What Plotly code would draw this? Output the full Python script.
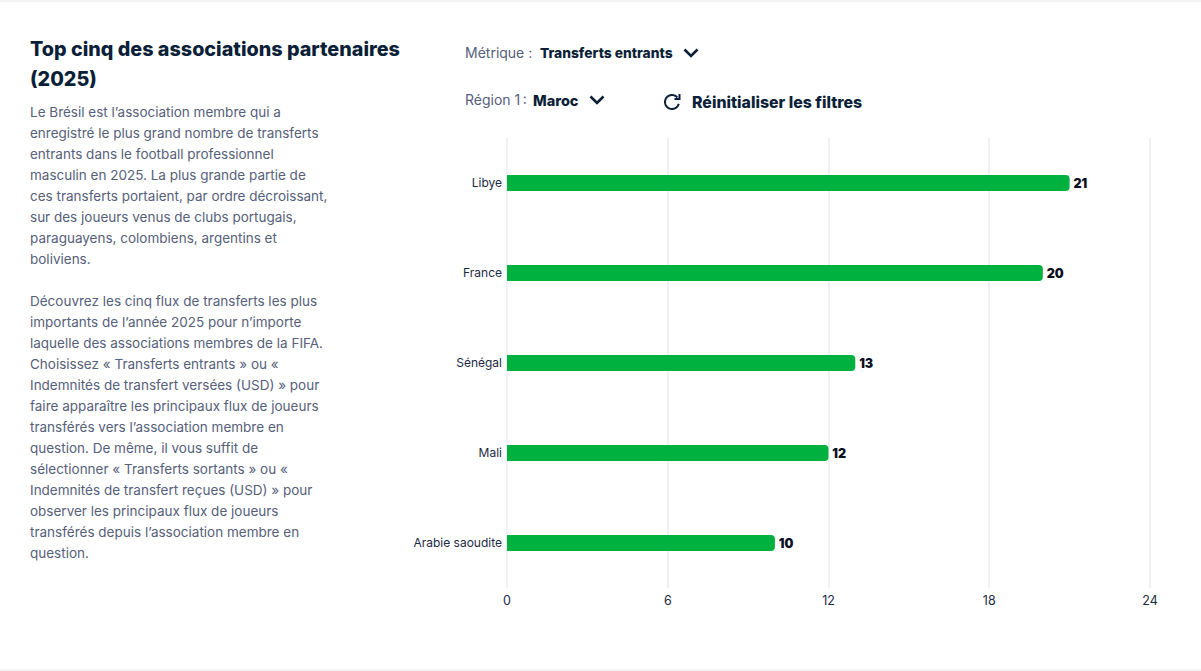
import numpy as np
import plotly.graph_objects as go

categories = ["Libye", "France", "Sénégal", "Mali", "Arabie saoudite"]
values = [21, 20, 13, 12, 10]
x_ticks = [0, 6, 12, 18, 24]

title_lines = ["Top cinq des associations partenaires", "(2025)"]
body_lines = [
    "Le Brésil est l’association membre qui a",
    "enregistré le plus grand nombre de transferts",
    "entrants dans le football professionnel",
    "masculin en 2025. La plus grande partie de",
    "ces transferts portaient, par ordre décroissant,",
    "sur des joueurs venus de clubs portugais,",
    "paraguayens, colombiens, argentins et",
    "boliviens.",
    "",
    "Découvrez les cinq flux de transferts les plus",
    "importants de l’année 2025 pour n’importe",
    "laquelle des associations membres de la FIFA.",
    "Choisissez « Transferts entrants » ou «",
    "Indemnités de transfert versées (USD) » pour",
    "faire apparaître les principaux flux de joueurs",
    "transférés vers l’association membre en",
    "question. De même, il vous suffit de",
    "sélectionner « Transferts sortants » ou «",
    "Indemnités de transfert reçues (USD) » pour",
    "observer les principaux flux de joueurs",
    "transférés depuis l’association membre en",
    "question.",
]

W, H = 1201, 671
PAD = 2
L, R, T, B = 507 - PAD, 1150 + PAD, 138, 588
UNIT = (1150 - 507) / 24
FONT = "Inter, 'Noto Sans', sans-serif"
NAVY = "#0b1f38"
SLATE = "#56607a"
GRID = "#f0f0f5"


def px(x):
    return (x - L) / (R - L)


def py(y):
    return (B - y) / (B - T)


def label(x, y, text, size, color, weight=400):
    return dict(
        x=px(x - 2), y=py(y), xref="paper", yref="paper", text=text, showarrow=False,
        xanchor="left", yanchor="middle", align="left",
        font=dict(family=FONT, size=size, color=color, weight=weight),
    )


def polyline(points):
    return "M " + " L ".join(f"{px(a):.5f} {py(b):.5f}" for a, b in points)


def chevron(cx, cy):
    return dict(
        type="path", xref="paper", yref="paper",
        path=polyline([(cx - 6.5, cy - 3.5), (cx, cy + 3), (cx + 6.5, cy - 3.5)]),
        line=dict(color=NAVY, width=2.6), layer="above",
    )


fig = go.Figure(
    go.Bar(
        x=values, y=categories, orientation="h",
        marker=dict(color="#00b140", cornerradius=4, line=dict(width=0)),
        text=values, texttemplate="\u200a%{x}", textposition="outside", cliponaxis=False,
        textfont=dict(family=FONT, size=12.5, color="#0a0f1e", weight=900),
        hoverinfo="skip",
    )
)

annotations = []
for i, line in enumerate(title_lines):
    annotations.append(label(30, 49 + 30 * i, line, 19.75, NAVY, 800))
for i, line in enumerate(body_lines):
    if line:
        annotations.append(label(30, 111.8 + 21 * i, line, 13.5, SLATE))
annotations += [
    label(465, 52, "Métrique :", 14, SLATE),
    label(540, 52.5, "Transferts entrants", 13.8, NAVY, 800),
    label(465, 100, "Région 1\u2009:", 14, SLATE),
    label(533, 100.5, "Maroc", 14.5, NAVY, 800),
    label(692, 102.6, "Réinitialiser les filtres", 15.9, NAVY, 800),
]

theta = np.radians(np.linspace(15, 320, 40))
arc = [(672 + 7 * np.cos(t), 102 + 7 * np.sin(t)) for t in theta]
shapes = [
    dict(type="rect", xref="paper", yref="paper", x0=px(-3), x1=px(W + 3), y0=py(1), y1=py(670),
         line=dict(color="#e9e9ef", width=1), layer="below"),
    chevron(691, 53),
    chevron(597, 100),
    dict(type="path", xref="paper", yref="paper", path=polyline(arc),
         line=dict(color=NAVY, width=2), layer="above"),
    dict(type="path", xref="paper", yref="paper",
         path=polyline([(679.5, 94), (679.5, 99), (674.5, 99)]),
         line=dict(color=NAVY, width=2), layer="above"),
]

fig.update_layout(
    width=W, height=H, showlegend=False, bargap=0.822,
    margin=dict(l=L, r=W - R, t=T, b=H - B, autoexpand=False),
    paper_bgcolor="white", plot_bgcolor="white",
    font=dict(family=FONT, size=12, color="#1d2a44"),
    annotations=annotations, shapes=shapes,
    xaxis=dict(
        range=[-PAD / UNIT, 24 + PAD / UNIT], tickvals=x_ticks, showgrid=True, gridcolor=GRID, gridwidth=1.5,
        zeroline=False, showline=False, ticks="outside", ticklen=1, tickcolor="white",
        tickfont=dict(family=FONT, size=12.5, color="#1d2a44"),
    ),
    yaxis=dict(
        autorange="reversed", showgrid=False, zeroline=False, showline=False,
        ticks="", ticklabelstandoff=2,
        tickfont=dict(family=FONT, size=12, color="#1d2a44"),
    ),
)

fig.write_html(
    "out.html",
    config={"displayModeBar": False},
    post_script="document.body.style.margin='0';document.body.style.overflow='hidden';",
)
